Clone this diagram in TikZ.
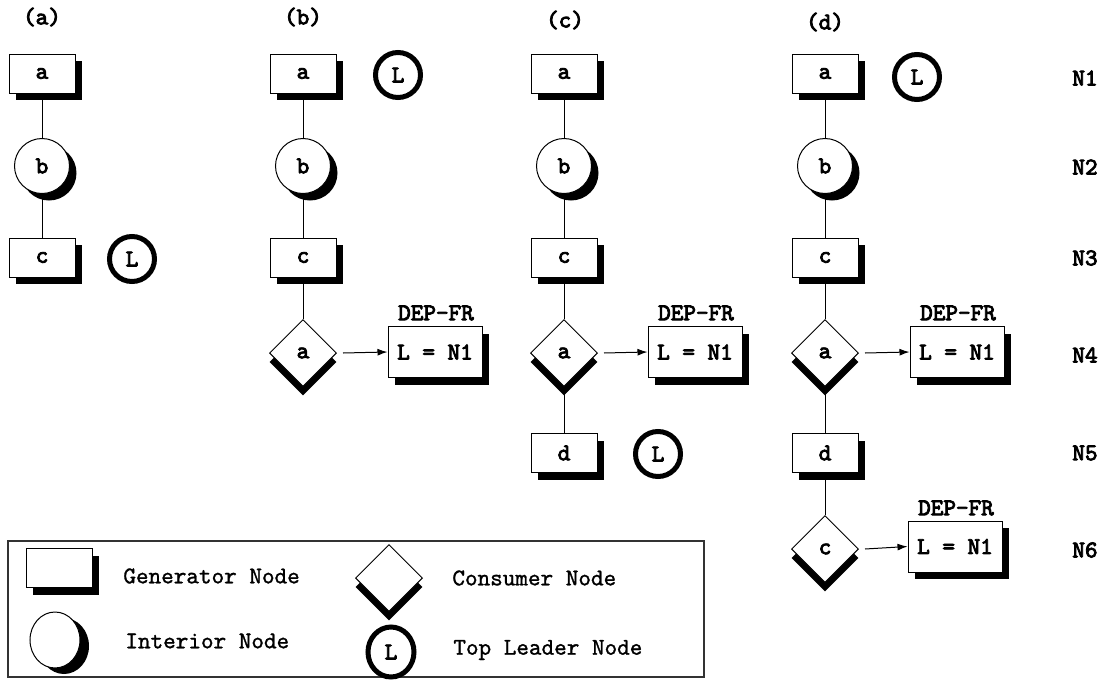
\documentclass[tikz,border=0pt]{standalone}
\usepackage{fontspec}
\newfontfamily\cbold{lmmono10-regular.otf}[FakeBold=3.5]
\newfontfamily\creg{lmmono10-regular.otf}[FakeBold=1.2]
\usetikzlibrary{shapes.geometric,shadows,arrows.meta}
\begin{document}
\begin{tikzpicture}[x=0.5pt,y=-0.5pt,
  font=\fontsize{12}{14}\selectfont\cbold,
  shd/.style={drop shadow={shadow xshift=3.5pt,shadow yshift=-3.5pt,fill=black,opacity=1}},
  gen/.style={draw,fill=white,line width=0.5pt,minimum width=33pt,minimum height=19.5pt,inner sep=0pt,shd},
  inter/.style={circle,draw,fill=white,line width=0.5pt,minimum size=27.5pt,inner sep=0pt,shd},
  cons/.style={diamond,aspect=1,draw,fill=white,line width=0.5pt,minimum width=33.5pt,minimum height=33.5pt,inner sep=0pt,
    drop shadow={shadow xshift=0pt,shadow yshift=-4.5pt,fill=black,opacity=1}},
  leader/.style={circle,draw,line width=2.5pt,minimum size=22.5pt,inner sep=0pt},
  dep/.style={draw,fill=white,line width=0.5pt,minimum width=47pt,minimum height=25.5pt,inner sep=0pt,shd},
  conn/.style={line width=0.5pt},
  arr/.style={line width=0.5pt,-{Latex[length=5pt,width=3.5pt]}},
  lbl/.style={inner sep=0pt},
  legtxt/.style={anchor=west,inner sep=0pt,font=\fontsize{12}{14}\selectfont\creg},
]
\useasboundingbox (0,0) rectangle (1100,681);

% column headers
\node[lbl] (ha) at (42,17) {(a)};
\node[lbl] (hb) at (303,17) {(b)};
\node[lbl] (hc) at (565,20) {(c)};
\node[lbl] (hd) at (825,22) {(d)};

% row labels
\node[lbl] (n1) at (1085,78) {N1};
\node[lbl] (n2) at (1085,167) {N2};
\node[lbl] (n3) at (1085,258) {N3};
\node[lbl] (n4) at (1085,355) {N4};
\node[lbl] (n5) at (1085,453) {N5};
\node[lbl] (n6) at (1085,550) {N6};

% (a)
\node[gen] (aa) at (42,73.5) {a};
\node[inter] (ab) at (42,166) {b};
\node[gen] (ac) at (42,257.5) {c};
\node[leader] (aL) at (132,259) {L};
\draw[conn] (aa) -- (ab);
\draw[conn] (ab) -- (ac);

% (b)
\node[gen] (ba) at (303,73.5) {a};
\node[leader] (bL) at (398,75) {L};
\node[inter] (bb) at (303,166) {b};
\node[gen] (bc) at (303,257.5) {c};
\node[cons] (bd) at (303,353) {a};
\node[dep] (bdep) at (435,352) {L = N1};
\node[lbl] (bdl) at (436,313) {DEP-FR};
\draw[conn] (ba) -- (bb);
\draw[conn] (bb) -- (bc);
\draw[conn] (bc) -- (bd);
\draw[arr] ([xshift=3pt]bd.east) -- (bdep.west);

% (c)
\node[gen] (ca) at (564,73.5) {a};
\node[inter] (cb) at (564,166) {b};
\node[gen] (cc) at (564,257.5) {c};
\node[cons] (cd) at (564,353) {a};
\node[dep] (cdep) at (695,352) {L = N1};
\node[lbl] (cdl) at (696,313) {DEP-FR};
\node[gen] (ce) at (564,453) {d};
\node[leader] (cL) at (658,454) {L};
\draw[conn] (ca) -- (cb);
\draw[conn] (cb) -- (cc);
\draw[conn] (cc) -- (cd);
\draw[conn] (cd) -- (ce);
\draw[arr] ([xshift=3pt]cd.east) -- (cdep.west);

% (d)
\node[gen] (da) at (825,73.5) {a};
\node[leader] (dL) at (917,77) {L};
\node[inter] (db) at (825,166) {b};
\node[gen] (dc) at (825,257.5) {c};
\node[cons] (dd) at (825,353) {a};
\node[dep] (ddep) at (957,352) {L = N1};
\node[lbl] (ddl) at (958,313) {DEP-FR};
\node[gen] (de) at (825,453) {d};
\node[cons] (df) at (825,549) {c};
\node[dep] (dfep) at (955,546.5) {L = N1};
\node[lbl] (dfl) at (956,508) {DEP-FR};
\draw[conn] (da) -- (db);
\draw[conn] (db) -- (dc);
\draw[conn] (dc) -- (dd);
\draw[conn] (dd) -- (de);
\draw[conn] (de) -- (df);
\draw[arr] ([xshift=3pt]dd.east) -- (ddep.west);
\draw[arr] ([xshift=3pt]df.east) -- (dfep.west);

% legend
\draw[line width=0.6pt,black!80] (8,541) rectangle (704,677);
\node[gen] (lg) at (59,568) {};
\node[legtxt] (lgt) at (123,576) {Generator Node};
\node[ellipse,draw,fill=white,line width=0.5pt,minimum width=25pt,minimum height=28pt,inner sep=0pt,
  drop shadow={shadow xshift=4.5pt,shadow yshift=-3pt,fill=black,opacity=1}] (li) at (55,640) {};
\node[legtxt] (lit) at (125,641) {Interior Node};
\node[cons] (lc) at (389,578) {};
\node[legtxt] (lct) at (452,578) {Consumer Node};
\node[leader,minimum width=23pt,minimum height=25pt,ellipse] (ll) at (391,652) {L};
\node[legtxt] (llt) at (453,650) {Top Leader Node};
\end{tikzpicture}
\end{document}
